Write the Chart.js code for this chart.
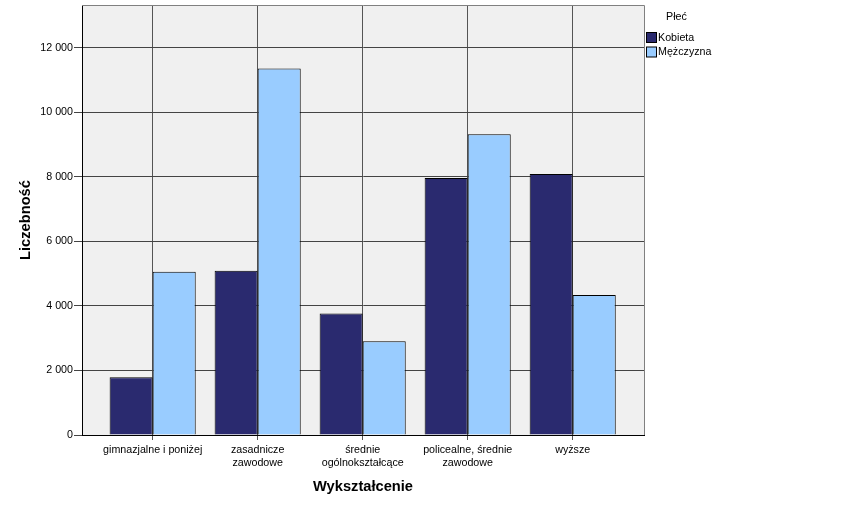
<!DOCTYPE html>
<html>
<head>
<meta charset="utf-8">
<script src="https://cdn.jsdelivr.net/npm/chart.js@4"></script>
<style>
  html, body { margin: 0; padding: 0; background: #fff; }
  #wrap { width: 860px; height: 505px; }
</style>
</head>
<body>
<div id="wrap"><canvas id="chart" width="860" height="505"></canvas></div>
<script>
  const categories = [
    'gimnazjalne i poniżej',
    ['zasadnicze', 'zawodowe'],
    ['średnie', 'ogólnokształcące'],
    ['policealne, średnie', 'zawodowe'],
    'wyższe'
  ];
  const kobieta = [1790, 5090, 3770, 7970, 8090];
  const mezczyzna = [5060, 11360, 2910, 9320, 4340];
  const yTicks = [0, 2000, 4000, 6000, 8000, 10000, 12000];

  const FONT = 'Arial, "Liberation Sans", sans-serif';
  const DARK = '#2a2a6f';
  const LIGHT = '#99ccff';

  const groupDigits = (v) => String(v).replace(/\B(?=(\d{3})+(?!\d))/g, ' ');
  const toPoints = (values) => values.map((y, x) => ({ x, y }));

  // plot background, upper/right frame and the "Płeć" legend
  const framePlugin = {
    id: 'frame',
    beforeDraw(chart) {
      const { ctx, chartArea: a } = chart;
      ctx.save();
      ctx.fillStyle = '#f0f0f0';
      ctx.fillRect(a.left, a.top, a.right - a.left, a.bottom - a.top);
      ctx.restore();
    },
    afterDraw(chart) {
      const { ctx, chartArea: a } = chart;
      ctx.save();
      ctx.strokeStyle = '#808080';
      ctx.lineWidth = 1;
      ctx.beginPath();
      ctx.moveTo(a.left, a.top + 0.5);
      ctx.lineTo(a.right + 0.5, a.top + 0.5);
      ctx.lineTo(a.right + 0.5, a.bottom);
      ctx.stroke();

      ctx.fillStyle = '#000';
      ctx.font = '10.7px ' + FONT;
      ctx.textBaseline = 'middle';
      ctx.textAlign = 'left';
      ctx.fillText('Płeć', 666, 17);
      chart.data.datasets.forEach((ds, i) => {
        const y = 32.5 + i * 14.5;
        ctx.fillStyle = ds.backgroundColor;
        ctx.fillRect(646.5, y, 10, 10);
        ctx.strokeStyle = '#000';
        ctx.strokeRect(646.5, y, 10, 10);
        ctx.fillStyle = '#000';
        ctx.fillText(ds.label, 658, y + 5.5);
      });
      ctx.restore();
    }
  };

  const noEdgePadding = (scale) => {
    scale.paddingTop = 0;
    scale.paddingBottom = 0;
    scale.paddingLeft = 0;
    scale.paddingRight = 0;
  };

  new Chart(document.getElementById('chart'), {
    type: 'bar',
    data: {
      datasets: [
        {
          label: 'Kobieta',
          data: toPoints(kobieta),
          backgroundColor: DARK,
          borderColor: '#000',
          borderWidth: 1
        },
        {
          label: 'Mężczyzna',
          data: toPoints(mezczyzna),
          backgroundColor: LIGHT,
          borderColor: '#000',
          borderWidth: 1
        }
      ]
    },
    options: {
      responsive: false,
      animation: false,
      categoryPercentage: 0.82,
      barPercentage: 1,
      layout: { padding: { top: 5, right: 216, left: 0, bottom: 0 } },
      plugins: {
        legend: { display: false },
        tooltip: { enabled: false }
      },
      scales: {
        x: {
          type: 'linear',
          offset: false,
          min: -0.673,
          max: 4.679,
          afterBuildTicks: (scale) => {
            scale.ticks = categories.map((_, i) => ({ value: i }));
          },
          afterFit: (scale) => { scale.height = 70; noEdgePadding(scale); },
          grid: { offset: false, color: '#555', lineWidth: 1, tickLength: 5 },
          border: { color: '#000', width: 1 },
          ticks: {
            padding: 4,
            maxRotation: 0,
            autoSkip: false,
            color: '#000',
            font: { family: FONT, size: 10.7, lineHeight: 1.2 },
            callback: (value) => categories[value]
          },
          title: {
            display: true,
            text: 'Wykształcenie',
            color: '#000',
            font: { family: FONT, size: 14.67, weight: 'bold', lineHeight: 1.2 },
            padding: { top: 0, bottom: 9 }
          }
        },
        y: {
          min: 0,
          max: 13330,
          afterBuildTicks: (scale) => {
            scale.ticks = yTicks.map((value) => ({ value }));
          },
          afterFit: (scale) => { scale.width = 82; noEdgePadding(scale); },
          grid: { color: '#444', lineWidth: 1, tickLength: 8 },
          border: { color: '#000', width: 1 },
          ticks: {
            padding: 1,
            color: '#000',
            font: { family: FONT, size: 10.7 },
            callback: (value) => groupDigits(value)
          },
          title: {
            display: true,
            text: 'Liczebność',
            color: '#000',
            font: { family: FONT, size: 14.67, weight: 'bold', lineHeight: 1.2 },
            padding: { top: 17, bottom: 0 }
          }
        }
      }
    },
    plugins: [framePlugin]
  });
</script>
</body>
</html>
